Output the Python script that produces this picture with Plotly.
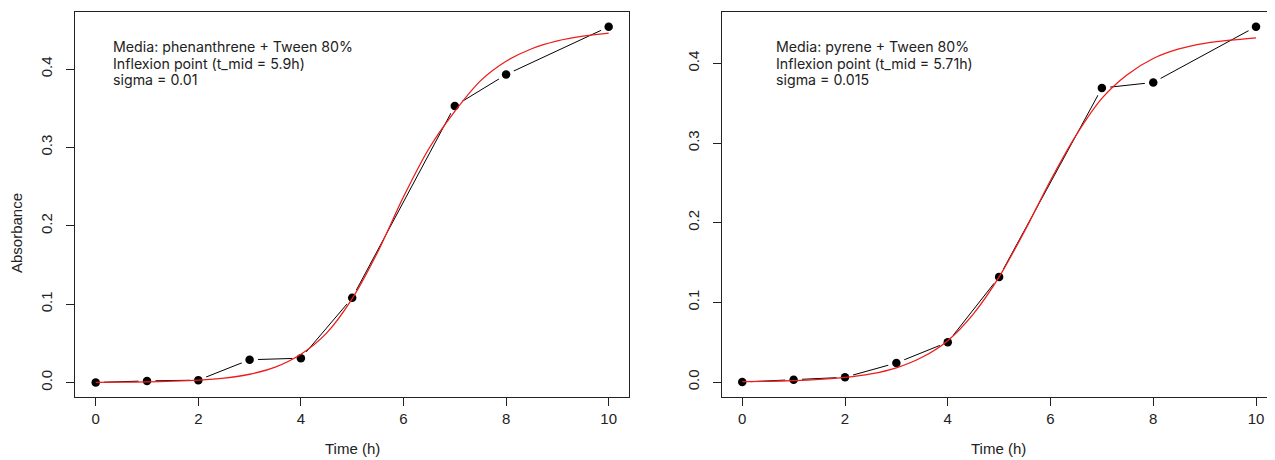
import plotly.graph_objects as go

# ---- data ----
time_h = [0, 1, 2, 3, 4, 5, 7, 8, 10]
abs_phenanthrene = [0.000, 0.002, 0.003, 0.029, 0.031, 0.108, 0.353, 0.393, 0.454]
abs_pyrene = [0.000, 0.003, 0.006, 0.024, 0.050, 0.132, 0.369, 0.376, 0.446]

# fitted logistic curves, every 0.5 h
fit_t = [0, 0.5, 1, 1.5, 2, 2.5, 3, 3.5, 4, 4.5, 5, 5.5, 6, 6.5, 7, 7.5, 8, 8.5, 9, 9.5, 10]
fit_phenanthrene = [0.0002, 0.0004, 0.0008, 0.0016, 0.003, 0.0056, 0.0105, 0.0196, 0.036,
                    0.063, 0.107, 0.167, 0.237, 0.299, 0.346, 0.385, 0.410, 0.426, 0.436,
                    0.442, 0.446]
fit_pyrene = [0.0006, 0.0010, 0.0018, 0.0033, 0.0058, 0.0102, 0.0179, 0.0311, 0.052,
              0.0856, 0.132, 0.190, 0.253, 0.310, 0.356, 0.386, 0.406, 0.418, 0.425,
              0.429, 0.432]

x_ticks = [0, 2, 4, 6, 8, 10]
y_ticks = [0.0, 0.1, 0.2, 0.3, 0.4]
y_tick_text = ["0.0", "0.1", "0.2", "0.3", "0.4"]

labels_left = ["Media: phenanthrene + Tween 80%", "Inflexion point (t_mid = 5.9h)", "sigma = 0.01"]
labels_right = ["Media: pyrene + Tween 80%", "Inflexion point (t_mid = 5.71h)", "sigma = 0.015"]

# the page body has an 8px margin; the figure is sized to fill the rest of the window
OFF = 8
W, H = 1275 - OFF, 460 - OFF


def px(x):
    return (x - OFF) / W


def py(y):
    return 1 - (y - OFF) / H


fig = go.Figure()

panels = [
    ("x", "y", abs_phenanthrene, fit_phenanthrene),
    ("x2", "y2", abs_pyrene, fit_pyrene),
]
for xa, ya, vals, fit in panels:
    fig.add_trace(go.Scatter(x=time_h, y=vals, mode="lines", xaxis=xa, yaxis=ya,
                             line=dict(color="black", width=1), showlegend=False, hoverinfo="skip"))
    # white masks for the gaps of R's type="b"
    fig.add_trace(go.Scatter(x=time_h, y=vals, mode="markers", xaxis=xa, yaxis=ya,
                             marker=dict(color="white", size=17, line=dict(width=0)),
                             showlegend=False, hoverinfo="skip"))
    fig.add_trace(go.Scatter(x=time_h, y=vals, mode="markers", xaxis=xa, yaxis=ya,
                             marker=dict(color="black", size=8.5, line=dict(width=0)),
                             showlegend=False))
    fig.add_trace(go.Scatter(x=fit_t, y=fit, mode="lines", xaxis=xa, yaxis=ya,
                             line=dict(color="#ee1c1c", width=1.3, shape="spline", smoothing=0.8),
                             showlegend=False))

tick_font = dict(family="Liberation Sans, Arial, sans-serif", size=15, color="#222")
common_x = dict(showgrid=False, zeroline=False, showline=True, mirror=True, linecolor="#222",
                linewidth=1, ticks="outside", ticklen=8, tickcolor="#222", tickwidth=1,
                tickvals=x_ticks, tickfont=tick_font)
common_y = dict(showgrid=False, zeroline=False, showline=True, mirror=True, linecolor="#222",
                linewidth=1, ticks="outside", ticklen=8, tickcolor="#222", tickwidth=1,
                tickvals=y_ticks, ticktext=y_tick_text, tickangle=-90, tickfont=tick_font,
                ticklabelstandoff=8)

fig.update_layout(
    width=W, height=H,
    margin=dict(l=0, r=0, t=0, b=0),
    paper_bgcolor="white", plot_bgcolor="white",
    xaxis=dict(common_x, domain=[px(75.2), px(629.2)], range=[-0.4, 10.4], anchor="y"),
    yaxis=dict(common_y, domain=[py(396.5), py(12.3)], range=[-0.0179, 0.4725], anchor="x"),
    xaxis2=dict(common_x, domain=[px(721.7), px(1274.5)], range=[-0.4, 10.36], anchor="y2"),
    yaxis2=dict(common_y, domain=[py(396.5), py(12.3)], range=[-0.0181, 0.4640], anchor="x2"),
)

title_font = dict(family="Liberation Sans, Arial, sans-serif", size=15, color="#222")
ann = []
ann.append(dict(text="Absorbance", x=px(17), y=py(233), xref="paper", yref="paper",
                textangle=-90, showarrow=False, font=title_font, xanchor="center", yanchor="middle"))
ann.append(dict(text="Time (h)", x=px(352.5), y=py(448), xref="paper", yref="paper",
                showarrow=False, font=title_font, xanchor="center", yanchor="middle"))
ann.append(dict(text="Time (h)", x=px(998), y=py(448), xref="paper", yref="paper",
                showarrow=False, font=title_font, xanchor="center", yanchor="middle"))

label_font = dict(family="Inter, Roboto, sans-serif", size=14.2, color="#222")
for lx, lines in [(110.5, labels_left), (774, labels_right)]:
    for i, line in enumerate(lines):
        ann.append(dict(text=line, x=px(lx), y=py(46 + 17 * i), xref="paper", yref="paper",
                        showarrow=False, font=label_font, xanchor="left", yanchor="middle",
                        align="left"))

fig.update_layout(annotations=ann)
fig.write_html("out.html")
